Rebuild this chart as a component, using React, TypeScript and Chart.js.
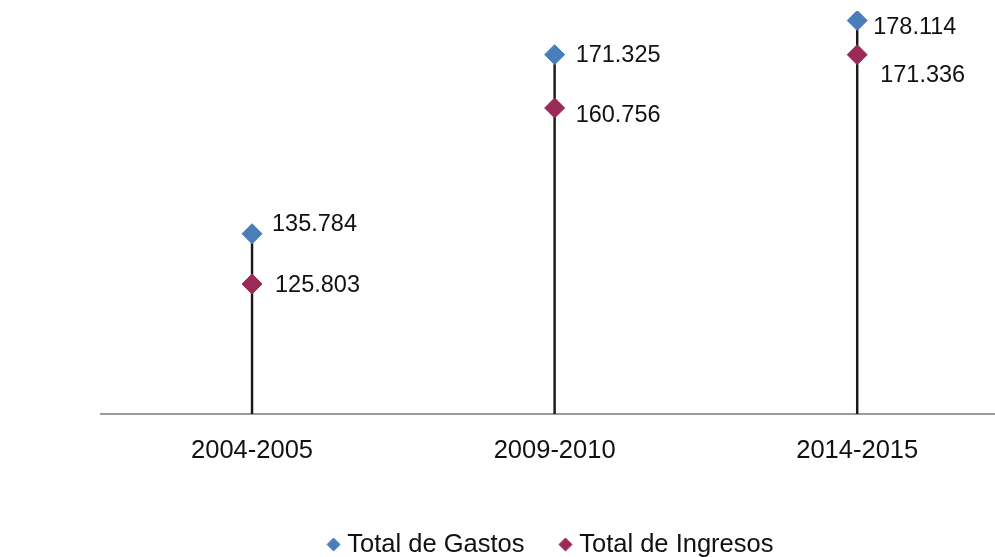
import React, { useEffect, useRef } from "react";
import { Chart, registerables } from "chart.js";

Chart.register(...registerables);

const categories = ["2004-2005", "2009-2010", "2014-2015"];
const totalGastos = [135.784, 171.325, 178.114];
const totalIngresos = [125.803, 160.756, 171.336];
const seriesNames = ["Total de Gastos", "Total de Ingresos"];
const yMin = 100;
const yMax = 180;

const FONT = "'Liberation Sans', Arial, sans-serif";
const BLUE = "#4A7EBB";
const RED = "#9C2A58";

// small per-label nudges (pixels) so value labels sit as in the original
const labelNudges = [
  [[20, -9], [21, 1], [16, 7]],
  [[23, 1], [21, 8], [23, 21]],
];

const valueLabelsPlugin = {
  id: "pointValueLabels",
  afterDatasetsDraw(chart: any) {
    const ctx = chart.ctx;
    ctx.save();
    ctx.font = `23.5px ${FONT}`;
    ctx.fillStyle = "#111111";
    ctx.textAlign = "left";
    ctx.textBaseline = "middle";
    [0, 1].forEach((di) => {
      const meta = chart.getDatasetMeta(di);
      const ds = chart.data.datasets[di];
      meta.data.forEach((pt: any, i: number) => {
        const v = ds.data[i] as number;
        const [dx, dy] = labelNudges[di][i];
        ctx.fillText(v.toFixed(3), pt.x + dx, pt.y + dy);
      });
    });
    ctx.restore();
  },
};

export default function App() {
  const ref = useRef<HTMLCanvasElement | null>(null);

  useEffect(() => {
    if (!ref.current) return;
    const dropTops = categories.map((_, i) => [yMin, Math.max(totalGastos[i], totalIngresos[i])]);
    const chart = new Chart(ref.current, {
      type: "line",
      data: {
        labels: categories,
        datasets: [
          {
            type: "line",
            label: seriesNames[0],
            data: totalGastos,
            showLine: false,
            pointStyle: "rectRot",
            pointRadius: 10,
            pointBorderWidth: 1,
            backgroundColor: BLUE,
            borderColor: BLUE,
            borderWidth: 1,
            order: 1,
          },
          {
            type: "line",
            label: seriesNames[1],
            data: totalIngresos,
            showLine: false,
            pointStyle: "rectRot",
            pointRadius: 10,
            pointBorderWidth: 1,
            backgroundColor: RED,
            borderColor: RED,
            borderWidth: 1,
            order: 1,
          },
          {
            type: "bar",
            label: "drop",
            data: dropTops as any,
            backgroundColor: "#1a1a1a",
            borderWidth: 0,
            barThickness: 1.8,
            order: 3,
          },
        ] as any,
      },
      options: {
        animation: false,
        responsive: false,
        events: [],
        layout: { padding: { left: 97.5, right: 12.5, top: 10.6, bottom: 0.75 } },
        plugins: {
          tooltip: { enabled: false },
          legend: {
            position: "bottom",
            labels: {
              usePointStyle: true,
              pointStyle: "rectRot",
              boxWidth: 2,
              boxHeight: 9.2,
              padding: 40,
              color: "#111111",
              font: { size: 25.5, family: FONT },
              filter: (item: any) => item.datasetIndex < 2,
            },
          },
        },
        scales: {
          x: {
            type: "category",
            offset: true,
            grid: { display: false },
            border: { display: true, color: "#9a9a9a", width: 2 },
            ticks: { color: "#111111", padding: 14, font: { size: 25.5, family: FONT } },
            afterFit: (s: any) => {
              s.height = 77.75;
            },
          },
          y: {
            display: true,
            min: yMin,
            max: yMax,
            ticks: { display: false },
            grid: { display: false },
            border: { display: false },
            afterFit: (s: any) => {
              s.width = 3.25;
            },
          },
        },
      } as any,
      plugins: [valueLabelsPlugin],
    });
    return () => chart.destroy();
  }, []);

  return (
    <div
      style={{
        position: "fixed",
        left: 0,
        top: 0,
        width: 995,
        height: 557,
        overflow: "hidden",
        background: "#ffffff",
      }}
    >
      <canvas
        ref={ref}
        width={1021}
        height={568}
        style={{ position: "absolute", left: 0, top: 0, width: 1021, height: 568 }}
      />
    </div>
  );
}
